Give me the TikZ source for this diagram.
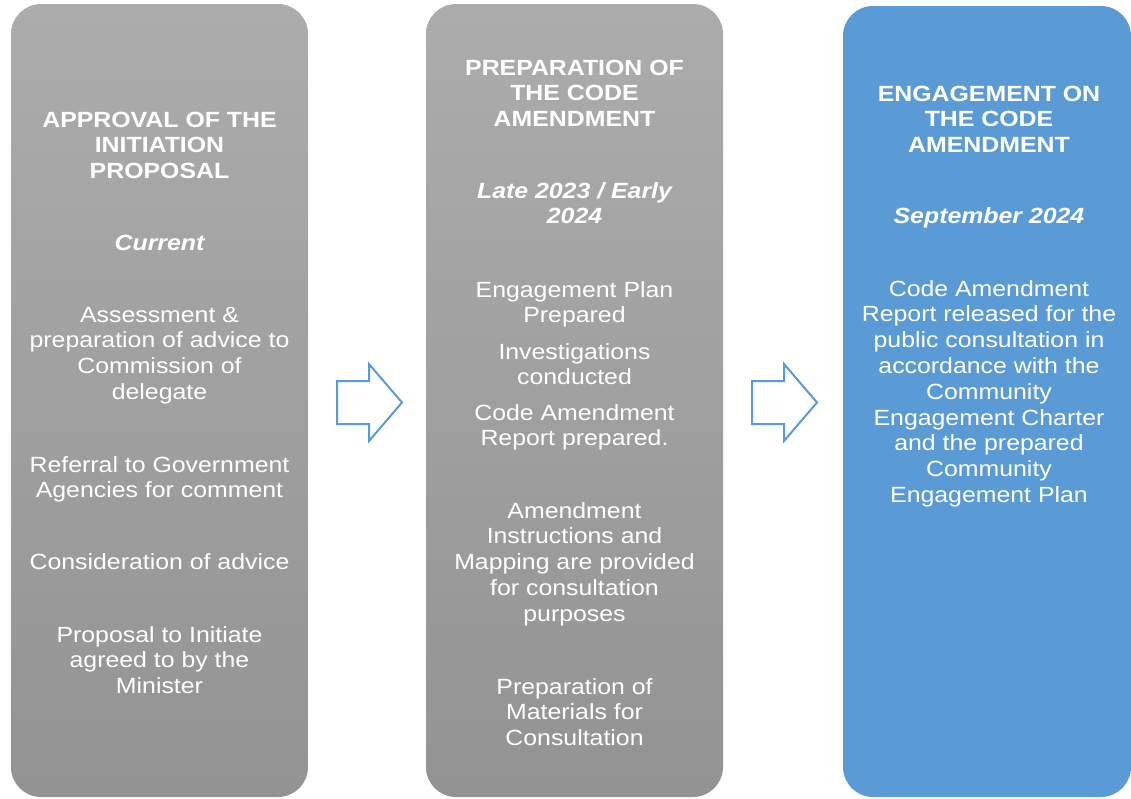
\documentclass[tikz,border=0pt]{standalone}
\usepackage{fontspec}
\setmainfont[FakeStretch=1.13]{Liberation Sans}
\definecolor{gtop}{HTML}{ACACAC}
\definecolor{gbot}{HTML}{939393}
\definecolor{bluebox}{HTML}{5B9BD5}
\definecolor{arrowblue}{HTML}{5B9BD5}
\tikzset{
  graybox/.style={rounded corners=30pt, top color=gtop, bottom color=gbot, draw=none, minimum width=297pt, minimum height=793pt, inner sep=0pt},
  bluestage/.style={rounded corners=30pt, fill=bluebox, draw=none, minimum width=288pt, minimum height=791pt, inner sep=0pt},
  txt/.style={text=white, align=center, anchor=base, inner sep=0pt, font=\fontsize{22}{25.8}\selectfont},
  ttl/.style={txt, font=\fontsize{22}{25.8}\selectfont\bfseries},
  dat/.style={txt, font=\fontsize{22}{25.8}\selectfont\bfseries\itshape},
  flow/.style={draw=arrowblue, line width=2pt, fill=white, line join=miter}
}
\begin{document}
\begin{tikzpicture}[x=1pt,y=-1pt]
\useasboundingbox (0,0) rectangle (1131,798);
% stage boxes
\node[graybox] (b1) at (159.5,400.5) {};
\node[graybox] (b2) at (574.5,400.5) {};
\node[bluestage] (b3) at (987,401.5) {};
% arrows
\draw[flow] (337,381) -- (369,381) -- (369,364) -- (402,402.5) -- (369,441) -- (369,424) -- (337,424) -- cycle;
\draw[flow] (752,381) -- (784,381) -- (784,364) -- (817,402.5) -- (784,441) -- (784,424) -- (752,424) -- cycle;
% box 1 text (anchor = baseline of last line)
\node[ttl] (t1) at (159.5,178.6) {APPROVAL OF THE\\INITIATION\\PROPOSAL};
\node[dat] (d1) at (159.5,250) {Current};
\node[txt] (p11) at (159.5,399.4) {Assessment \&\\preparation of advice to\\Commission of\\delegate};
\node[txt] (p12) at (159.5,497.8) {Referral to Government\\Agencies for comment};
\node[txt] (p13) at (159.5,569) {Consideration of advice};
\node[txt] (p14) at (159.5,693.6) {Proposal to Initiate\\agreed to by the\\Minister};
% box 2 text
\node[ttl] (t2) at (574.5,126.6) {PREPARATION OF\\THE CODE\\AMENDMENT};
\node[dat] (d2) at (574.5,223.8) {Late 2023 / Early\\2024};
\node[txt] (p21) at (574.5,322.8) {Engagement Plan\\Prepared};
\node[txt] (p22) at (574.5,384.8) {Investigations\\conducted};
\node[txt] (p23) at (574.5,445.8) {Code Amendment\\Report prepared.};
\node[txt] (p24) at (574.5,621.2) {Amendment\\Instructions and\\Mapping are provided\\for consultation\\purposes};
\node[txt] (p25) at (574.5,745.6) {Preparation of\\Materials for\\Consultation};
% box 3 text
\node[ttl] (t3) at (989,152.6) {ENGAGEMENT ON\\THE CODE\\AMENDMENT};
\node[dat] (d3) at (989,223) {September 2024};
\node[txt] (p31) at (989,502.4) {Code Amendment\\Report released for the\\public consultation in\\accordance with the\\Community\\Engagement Charter\\and the prepared\\Community\\Engagement Plan};
\end{tikzpicture}
\end{document}
